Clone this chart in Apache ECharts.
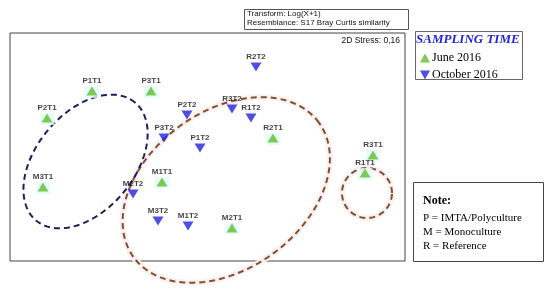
<!DOCTYPE html>
<html>
<head>
<meta charset="utf-8">
<script src="https://cdn.jsdelivr.net/npm/echarts@6/dist/echarts.min.js"></script>
<style>html,body{margin:0;padding:0;background:#fff}#c{width:550px;height:293px}</style>
</head>
<body>
<div id="c"></div>
<script>
// nMDS ordination coordinates (unitless)
const juneSites = ['P1T1','P3T1','P2T1','R2T1','R3T1','R1T1','M3T1','M1T1','M2T1'];
const juneX = [-1.17, -0.572, -1.625, 0.663, 1.676, 1.595, -1.666, -0.461, 0.248];
const juneY = [0.567, 0.567, 0.294, 0.091, -0.081, -0.263, -0.405, -0.354, -0.82];

const octSites = ['P2T2','R3T2','R1T2','P3T2','P1T2','R2T2','M2T2','M3T2','M1T2'];
const octX = [-0.208, 0.248, 0.44, -0.44, -0.076, 0.491, -0.754, -0.501, -0.197];
const octY = [0.324, 0.385, 0.294, 0.091, -0.010, 0.81, -0.476, -0.749, -0.80];

// cluster outlines: [centerX, centerY, semiAxisA, semiAxisB, angleDeg]
const groupP = [-1.235, -0.147, 0.78, 0.496, 50];
const groupMR = [0.19, -0.435, 1.16, 0.80, 36];
const groupR1 = [1.615, -0.466, 0.253, 0.253, 0];

const seriesNames = ['June 2016', 'October 2016'];
const legendTitle = 'SAMPLING TIME';
const noteLines = ['P = IMTA/Polyculture', 'M = Monoculture', 'R = Reference'];

const chart = echarts.init(document.getElementById('c'), null, {renderer: 'canvas'});

function pts(names, xs, ys) {
  return names.map((n, i) => ({name: n, value: [xs[i], ys[i]]}));
}

function ellipseRender(stroke, halo) {
  return function (params, api) {
    const cx = api.value(0), cy = api.value(1), a = api.value(2), b = api.value(3), ang = api.value(4) * Math.PI / 180;
    const points = [];
    const N = 120;
    for (let k = 0; k < N; k++) {
      const t = 2 * Math.PI * k / N;
      const x = cx + a * Math.cos(ang) * Math.cos(t) - b * Math.sin(ang) * Math.sin(t);
      const y = cy + a * Math.sin(ang) * Math.cos(t) + b * Math.cos(ang) * Math.sin(t);
      points.push(api.coord([x, y]));
    }
    const children = [];
    if (halo) {
      children.push({type: 'polygon', shape: {points: points}, style: {fill: 'none', stroke: halo, lineWidth: 6}, silent: true});
    }
    children.push({type: 'polygon', shape: {points: points}, style: {fill: 'none', stroke: stroke, lineWidth: 2, lineDash: [6, 4]}, silent: true});
    return {type: 'group', children: children};
  };
}

const labelStyle = {show: true, position: 'top', distance: 2, formatter: '{b}', fontSize: 8, fontWeight: 'bold', fontFamily: 'Liberation Sans', color: '#111'};

chart.setOption({
  animation: false,
  backgroundColor: '#fff',
  grid: {left: 10, top: 33, width: 395, height: 228, show: true, borderColor: '#444', borderWidth: 1, backgroundColor: 'transparent'},
  xAxis: {type: 'value', min: -2, max: 2, show: false},
  yAxis: {type: 'value', min: -1.155, max: 1.155, show: false},
  legend: {
    data: [
      {name: seriesNames[0], icon: 'triangle'},
      {name: seriesNames[1], icon: 'path://M0,0L10,0L5,9Z'}
    ],
    orient: 'vertical', left: 415, top: 47, itemWidth: 10, itemHeight: 9, itemGap: 5,
    selectedMode: false,
    textStyle: {fontFamily: 'Liberation Serif', fontSize: 12, color: '#000', padding: [0, 0, 0, -3]}
  },
  graphic: [
    {type: 'rect', left: 244, top: 9, shape: {width: 164, height: 20}, style: {fill: '#fff', stroke: '#555', lineWidth: 1}},
    {type: 'text', left: 247, top: 10, style: {text: 'Transform: Log(X+1)', font: '8px "Liberation Sans"', fill: '#111'}},
    {type: 'text', left: 247, top: 19, style: {text: 'Resemblance: S17 Bray Curtis similarity', font: '8px "Liberation Sans"', fill: '#111'}},
    {type: 'text', right: 150, top: 36, style: {text: '2D Stress: 0,16', font: '8.5px "Liberation Sans"', fill: '#111'}},
    {type: 'rect', left: 413, top: 29, shape: {width: 107, height: 48}, style: {fill: 'none', stroke: '#666', lineWidth: 1}},
    {type: 'text', left: 416, top: 33, style: {text: legendTitle, font: 'italic bold 13px "Liberation Serif"', fill: '#2323d8'}},
    {type: 'rect', left: 413, top: 182, shape: {width: 130, height: 79}, style: {fill: '#fff', stroke: '#444', lineWidth: 1}},
    {type: 'text', left: 423, top: 195, style: {text: 'Note:', font: 'bold 12px "Liberation Serif"', fill: '#000'}},
    {type: 'text', left: 423, top: 213, style: {text: noteLines[0], font: '11px "Liberation Serif"', fill: '#000'}},
    {type: 'text', left: 423, top: 227, style: {text: noteLines[1], font: '11px "Liberation Serif"', fill: '#000'}},
    {type: 'text', left: 423, top: 241, style: {text: noteLines[2], font: '11px "Liberation Serif"', fill: '#000'}}
  ],
  series: [
    {type: 'custom', name: 'groupMR', renderItem: ellipseRender('#7d5227', '#fdf0f4'), data: [groupMR, groupR1], encode: {x: 0, y: 1}, z: 1, clip: false, silent: true},
    {type: 'custom', name: 'groupP', renderItem: ellipseRender('#1c1f5c', null), data: [groupP], encode: {x: 0, y: 1}, z: 2, clip: false, silent: true},
    {type: 'scatter', name: 'halo', symbol: 'rect', symbolSize: [15, 12], symbolOffset: [0, 1], itemStyle: {color: '#e2fbf8'}, data: pts(juneSites, juneX, juneY), z: 3, silent: true},
    {type: 'scatter', name: seriesNames[0], symbol: 'triangle', symbolSize: [11, 9], itemStyle: {color: '#5fbb2c'}, label: labelStyle, data: pts(juneSites, juneX, juneY), z: 5},
    {type: 'scatter', name: seriesNames[1], symbol: 'path://M0,0L10,0L5,9Z', symbolSize: [11, 9], itemStyle: {color: '#2222dd'}, label: labelStyle, data: pts(octSites, octX, octY), z: 5}
  ]
});
</script>
</body>
</html>
